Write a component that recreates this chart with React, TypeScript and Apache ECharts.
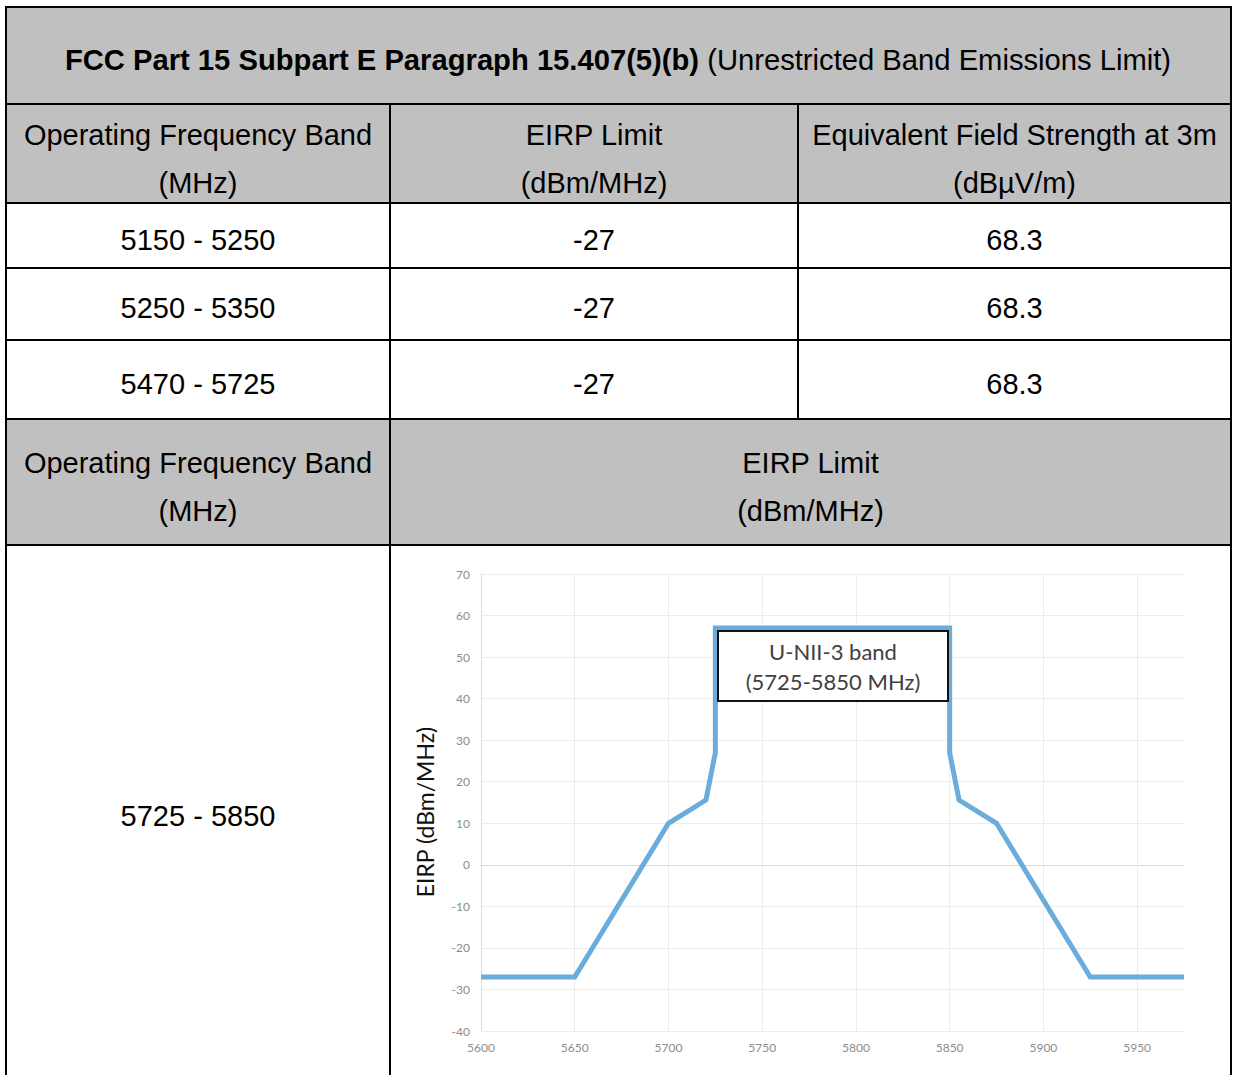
import React, { useEffect, useRef } from "react";
import * as echarts from "echarts";

// ---------- table content ----------
const titleBold = "FCC Part 15 Subpart E Paragraph 15.407(5)(b)";
const titleRegular = " (Unrestricted Band Emissions Limit)";
const headerTop = ["Operating Frequency Band", "EIRP Limit", "Equivalent Field Strength at 3m"];
const headerBottom = ["(MHz)", "(dBm/MHz)", "(dBµV/m)"];
const bands = ["5150 - 5250", "5250 - 5350", "5470 - 5725"];
const eirpLimits = ["-27", "-27", "-27"];
const fieldStrengths = ["68.3", "68.3", "68.3"];
const header2Top = ["Operating Frequency Band", "EIRP Limit"];
const header2Bottom = ["(MHz)", "(dBm/MHz)"];
const lastBand = "5725 - 5850";

// ---------- chart data ----------
const freqMHz = [5600, 5650, 5700, 5720, 5725, 5725, 5850, 5850, 5855, 5875, 5925, 5975];
const eirpDbm = [-27, -27, 10, 15.6, 27, 57, 57, 27, 15.6, 10, -27, -27];
const xGridTicks = [5650, 5700, 5750, 5800, 5850, 5900, 5950];
const yAxisName = "EIRP (dBm/MHz)";
const annotationLines = ["U-NII-3 band", "(5725-5850 MHz)"];

const FONT = '"Liberation Sans", Arial, sans-serif';
const CHART_FONT = "Lato, sans-serif";
const GRAY = "#c0c0c0";

function txt(text: string, x: number, y: number, extra: any = {}) {
  return {
    type: "text",
    z: 10,
    style: {
      text,
      x,
      y,
      align: "center",
      textAlign: "center",
      verticalAlign: "middle",
      textVerticalAlign: "middle",
      fontFamily: FONT,
      fontSize: 29,
      fill: "#000",
      ...extra,
    },
  };
}

function rect(x: number, y: number, w: number, h: number, fill: string, z = 5) {
  return { type: "rect", z, shape: { x, y, width: w, height: h }, style: { fill } };
}

export default function App() {
  const ref = useRef<HTMLDivElement>(null);

  useEffect(() => {
    if (!ref.current) return;
    const chart = echarts.init(ref.current, undefined, { renderer: "svg" });

    const c1 = (7 + 389) / 2;
    const c2 = (391 + 797) / 2;
    const c3 = (799 + 1230) / 2;
    const c23 = (391 + 1230) / 2;
    const rowY = [240, 308, 384];

    const graphics: any[] = [
      // gray fills
      rect(7, 8, 1223, 95, GRAY, 1),
      rect(7, 105, 1223, 97, GRAY, 1),
      rect(7, 420, 1223, 124, GRAY, 1),
      // borders
      rect(5, 6, 1227, 2, "#000"),
      rect(5, 6, 2, 1075, "#000"),
      rect(1230, 6, 2, 1075, "#000"),
      rect(5, 103, 1227, 2, "#000"),
      rect(5, 202, 1227, 2, "#000"),
      rect(5, 267, 1227, 2, "#000"),
      rect(5, 339, 1227, 2, "#000"),
      rect(5, 418, 1227, 2, "#000"),
      rect(5, 544, 1227, 2, "#000"),
      rect(389, 103, 2, 980, "#000"),
      rect(797, 103, 2, 317, "#000"),
      // title
      {
        type: "text",
        z: 10,
        style: {
          text: `{b|${titleBold}}{r|${titleRegular}}`,
          x: 618,
          y: 60,
          align: "center",
          textAlign: "center",
          verticalAlign: "middle",
          textVerticalAlign: "middle",
          rich: {
            b: { fontFamily: FONT, fontSize: 29.2, fontWeight: "bold", fill: "#000", color: "#000" },
            r: { fontFamily: FONT, fontSize: 29.2, fill: "#000", color: "#000" },
          },
        },
      },
      txt(headerTop[0], c1, 135),
      txt(headerBottom[0], c1, 183),
      txt(headerTop[1], c2, 135),
      txt(headerBottom[1], c2, 183),
      txt(headerTop[2], c3, 135),
      txt(headerBottom[2], c3, 183),
      ...bands.map((b, i) => txt(b, c1, rowY[i])),
      ...eirpLimits.map((b, i) => txt(b, c2, rowY[i])),
      ...fieldStrengths.map((b, i) => txt(b, c3, rowY[i])),
      txt(header2Top[0], c1, 463),
      txt(header2Bottom[0], c1, 511),
      txt(header2Top[1], c23, 463),
      txt(header2Bottom[1], c23, 511),
      txt(lastBand, c1, 816),
      // y axis title
      {
        type: "text",
        z: 10,
        x: 425,
        y: 812,
        rotation: Math.PI / 2,
        style: {
          text: yAxisName,
          x: 0,
          y: 0,
          align: "center",
          textAlign: "center",
          verticalAlign: "middle",
          textVerticalAlign: "middle",
          fontFamily: CHART_FONT,
          fontSize: 23,
          fill: "#111",
        },
      },
      // annotation box
      {
        type: "rect",
        z: 100,
        shape: { x: 718, y: 631, width: 230, height: 70 },
        style: { fill: "#fff", stroke: "#111", lineWidth: 2 },
      },
      txt(annotationLines[0], 833, 651, { fontFamily: CHART_FONT, fontSize: 22, fill: "#404040" }),
      txt(annotationLines[1], 833, 681, { fontFamily: CHART_FONT, fontSize: 22, fill: "#404040" }),
    ];
    graphics.slice(-2).forEach((g) => (g.z = 101));

    const data = freqMHz.map((f, i) => [f, eirpDbm[i]]);

    chart.setOption({
      animation: false,
      backgroundColor: "#fff",
      graphic: { elements: graphics },
      grid: { left: 481, top: 574, width: 703, height: 457 },
      xAxis: {
        type: "value",
        min: 5600,
        max: 5975,
        interval: 50,
        axisLine: { show: true, lineStyle: { color: "#d9d9d9", width: 1 } },
        axisTick: { show: false },
        splitLine: { show: false },
        axisLabel: {
          color: "#8c8c8c",
          fontFamily: CHART_FONT,
          fontSize: 12,
          margin: 10,
          showMaxLabel: false,
          formatter: (v: number) => String(v),
        },
      },
      yAxis: {
        type: "value",
        min: -40,
        max: 70,
        interval: 10,
        axisLine: { show: true, lineStyle: { color: "#d9d9d9", width: 1 } },
        axisTick: { show: false },
        splitLine: { show: true, lineStyle: { color: "#ececec", width: 1 } },
        axisLabel: {
          color: "#8c8c8c",
          fontFamily: CHART_FONT,
          fontSize: 12,
          margin: 11,
          formatter: (v: number) => String(v),
        },
      },
      series: [
        {
          type: "line",
          z: 1,
          data,
          silent: true,
          showSymbol: false,
          lineStyle: { opacity: 0 },
          markLine: {
            z: 1,
            silent: true,
            symbol: ["none", "none"],
            label: { show: false },
            lineStyle: { color: "#ececec", width: 1, type: "solid" },
            data: xGridTicks.map((v) => ({ xAxis: v })),
          },
        },
        {
          type: "line",
          z: 3,
          data,
          showSymbol: false,
          lineStyle: { color: "#6aacdc", width: 5, join: "miter" },
        },
      ],
    });

    return () => chart.dispose();
  }, []);

  return (
    <div
      ref={ref}
      style={{ position: "fixed", left: 0, top: 0, width: 1235, height: 1075, background: "#fff" }}
    />
  );
}
